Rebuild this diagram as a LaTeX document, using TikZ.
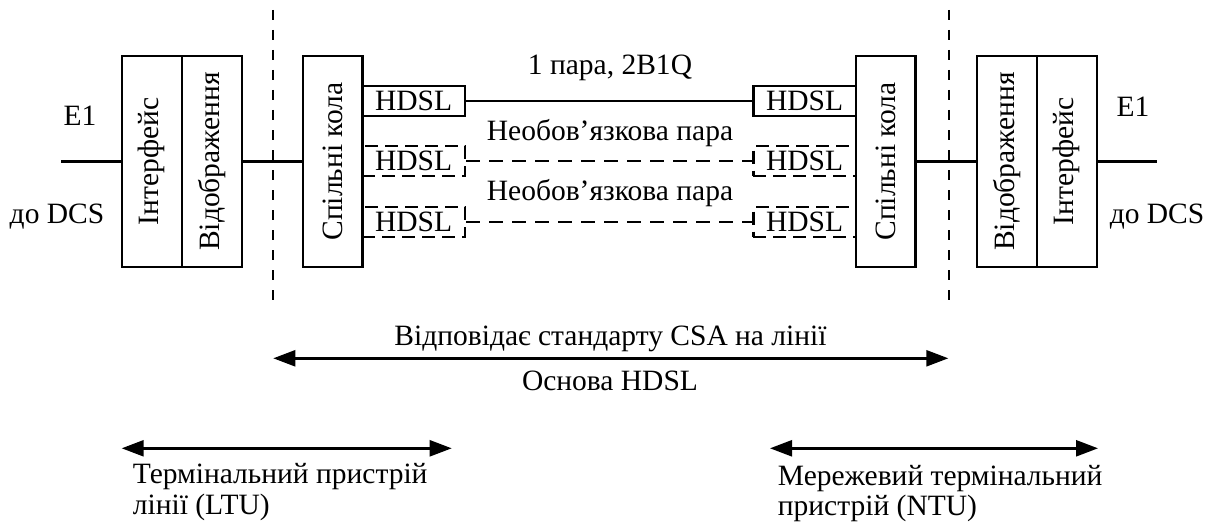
\documentclass[tikz,border=0pt]{standalone}
\usepackage{fontspec}
\setmainfont{Liberation Serif}
\usetikzlibrary{arrows.meta}
\begin{document}
\begin{tikzpicture}[x=1pt,y=-1pt, line width=2.4pt,
  box/.style={draw, inner sep=0pt, minimum width=60pt, minimum height=210.7pt},
  hbox/.style={draw, inner sep=0pt, minimum width=102.7pt, minimum height=30pt},
  dhbox/.style={hbox, dash pattern=on 13pt off 7pt},
  txt/.style={inner sep=0pt, anchor=base},
  ltxt/.style={inner sep=0pt, anchor=base west},
  dline/.style={dash pattern=on 14pt off 9pt},
  vline/.style={dash pattern=on 10pt off 10pt},
  dbl/.style={{Triangle[length=22pt,width=16pt]}-{Triangle[length=22pt,width=16pt]}},
  font=\fontsize{29.5}{33}\selectfont]
\useasboundingbox (0,0) rectangle (1214,524);

% left terminal
\node[box] (if1) at (151.7,161.4) {\rotatebox{90}{Інтерфейс}};
\node[box] (map1) at (211.7,161.4) {\rotatebox{90}{Відображення}};
\node[box, minimum width=59.6pt] (com1) at (332.5,161.4) {\rotatebox{90}{Спільні кола}};
\node[hbox] (h1l) at (413.65,101.3) {HDSL};
\node[dhbox] (h2l) at (413.65,161) {HDSL};
\node[dhbox] (h3l) at (413.65,222) {HDSL};

% right terminal
\node[box, minimum width=59.6pt] (com2) at (885.85,161.4) {\rotatebox{90}{Спільні кола}};
\node[box] (map2) at (1006.7,161.4) {\rotatebox{90}{Відображення}};
\node[box] (if2) at (1066.7,161.4) {\rotatebox{90}{Інтерфейс}};
\node[hbox] (h1r) at (804.65,101.3) {HDSL};
\node[dhbox] (h2r) at (804.65,161) {HDSL};
\node[dhbox] (h3r) at (804.65,222) {HDSL};

% free ends
\coordinate (e1l) at (61,161.4);
\coordinate (e1r) at (1156.7,161.4);
\coordinate (vlt) at (272.7,10);
\coordinate (vlb) at (272.7,303);
\coordinate (vrt) at (949,10);
\coordinate (vrb) at (949,303);
\coordinate (al) at (273.3,358.3);
\coordinate (ar) at (948.3,358.3);
\coordinate (ltul) at (121.7,448.3);
\coordinate (ltur) at (451.7,448.3);
\coordinate (ntul) at (770,448.3);
\coordinate (ntur) at (1098,448.3);

% connectors
\draw (e1l) -- (if1.west);
\draw (if2.east) -- (e1r);
\draw (map1.east) -- (com1.west);
\draw (com2.east) -- (map2.west);
\draw (h1l.east) -- (h1r.west);
\draw[dline] (h2l.east) -- (h2r.west);
\draw[dline] (h3l.east) -- (h3r.west);
\draw[vline] (vlt) -- (vlb);
\draw[vline] (vrt) -- (vrb);
\draw[dbl] (al) -- (ar);
\draw[dbl] (ltul) -- (ltur);
\draw[dbl] (ntul) -- (ntur);

% labels
\node[txt] (e1lt) at (80,125) {E1};
\node[txt] (e1rt) at (1133,117) {E1};
\node[txt] (dcsl) at (57,223) {до DCS};
\node[txt] (dcsr) at (1157,223) {до DCS};
\node[txt] (p1) at (610,75) {1 пара, 2B1Q};
\node[txt] (p2) at (610,140) {Необов’язкова пара};
\node[txt] (p3) at (610,200) {Необов’язкова пара};
\node[txt] (csa) at (610.5,345) {Відповідає стандарту CSA на лінії};
\node[txt] (base) at (610,390) {Основа HDSL};
\node[ltxt] (ltu1) at (131.7,483) {Термінальний пристрій};
\node[ltxt] (ltu2) at (131.7,514) {лінії (LTU)};
\node[ltxt] (ntu1) at (776.7,485) {Мережевий термінальний};
\node[ltxt] (ntu2) at (776.7,515) {пристрій (NTU)};
\end{tikzpicture}
\end{document}
